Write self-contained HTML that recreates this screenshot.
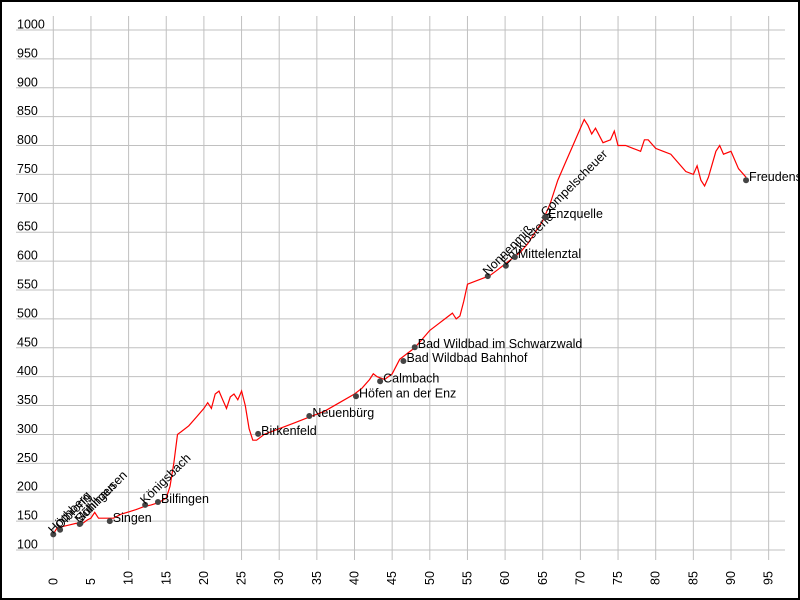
<!DOCTYPE html>
<html><head><meta charset="utf-8"><style>
html,body{margin:0;padding:0;background:#fff}
svg{display:block;font-family:"Liberation Sans",sans-serif}
</style></head><body>
<svg id="chart" width="800" height="600" xmlns="http://www.w3.org/2000/svg"></svg>
<script>
const distances=[0,0.5,1,2,3,4,4.5,5,5.5,6,7,8,9,10,11,12,13,14,15,15.5,16,16.5,17,18,19,20,20.5,21,21.5,22,22.5,23,23.5,24,24.5,25,25.5,26,26.5,27,27.5,28,30,32,34,35,36,38,40,41,42,42.5,43,44,45,46,47,48,49,50,51,52,53,53.5,54,54.5,55,56,57,58,59,60,61,62,63,64,65,66,67,68,69,70,70.5,71,71.5,72,73,74,74.5,75,76,77,78,78.5,79,80,81,82,83,84,85,85.5,86,86.5,87,88,88.5,89,90,91,92];
const elevations=[128,138,140,143,146,147,152,155,165,155,155,155,162,166,170,175,178,182,190,210,250,300,305,315,330,345,355,345,370,375,360,345,365,370,360,375,350,310,290,290,295,300,310,320,330,335,340,355,370,380,395,405,400,395,405,430,440,450,465,480,490,500,510,500,505,530,560,565,570,575,585,595,605,615,630,650,670,700,740,770,800,830,845,835,820,830,805,810,825,800,800,795,790,810,810,795,790,785,770,755,750,765,740,730,745,790,800,785,790,760,745];
const stopNames=["Hochberg","Ölbronn","Mühlhausen","Söllingen","Singen","Königsbach","Bilfingen","Birkenfeld","Neuenbürg","Höfen an der Enz","Calmbach","Bad Wildbad Bahnhof","Bad Wildbad im Schwarzwald","Nonnenmiß","Enzklösterle","Mittelenztal","Gompelscheuer","Enzquelle","Freudenstadt"];
const stopKm=[0,0.9,3.5,3.6,7.5,12.2,13.9,27.2,34,40.2,43.4,46.5,48,57.7,60.1,61.3,65.4,65.3,92];
const stopElev=[127,135,145,146,150,178,183,301,332,366,392,427,451,574,592,607,676,676,740];
const stopRotated=[1,1,1,1,0,1,0,0,0,0,0,0,0,1,1,0,1,0,0];
const yTicks=[100,150,200,250,300,350,400,450,500,550,600,650,700,750,800,850,900,950,1000];
const xTicks=[0,5,10,15,20,25,30,35,40,45,50,55,60,65,70,75,80,85,90,95];
const NS="http://www.w3.org/2000/svg";
const svg=document.getElementById('chart');
const X=k=>53.3+k*7.53;
const Y=v=>550-(v-100)*0.5778;
function mk(t,a,p){const e=document.createElementNS(NS,t);for(const k in a)e.setAttribute(k,a[k]);(p||svg).appendChild(e);return e;}
const border=mk('rect',{x:1,y:1,width:798,height:598,fill:'#fff',stroke:'#000','stroke-width':2});


const grid=mk('g',{});


yTicks.forEach(v=>{
  const l=mk('line',{x1:16,x2:785,y1:Y(v),y2:Y(v),stroke:'#c0c0c0','stroke-width':1},grid);
  
  
  const t=mk('text',{x:17,y:Y(v)-1.5,'font-size':12.5,fill:'#000'});
  t.textContent=v;
  
  
});
xTicks.forEach(k=>{
  const l=mk('line',{x1:X(k),x2:X(k),y1:16,y2:560,stroke:'#c0c0c0','stroke-width':1},grid);
  
  
  const t=mk('text',{x:0,y:0,'font-size':12.5,fill:'#000',transform:`translate(${X(k)+4},${585}) rotate(-90)`});
  t.textContent=k;
  
  
});
const pts=distances.map((d,i)=>X(d).toFixed(1)+','+Y(elevations[i]).toFixed(1)).join(' ');
const line=mk('polyline',{points:pts,fill:'none',stroke:'#ff0000','stroke-width':1.2});


stopNames.forEach((n,i)=>{
  const cx=X(stopKm[i]),cy=Y(stopElev[i]);
  const c=mk('circle',{cx:cx,cy:cy,r:3,fill:'#444'});
  
  
  const t=mk('text',{x:0,y:0,'font-size':12.5,fill:'#000',transform:stopRotated[i]?`translate(${cx},${cy}) rotate(-45)`:`translate(${cx+3},${cy+1})`});
  t.textContent=n;
  
  
});
</script>
</body></html>
